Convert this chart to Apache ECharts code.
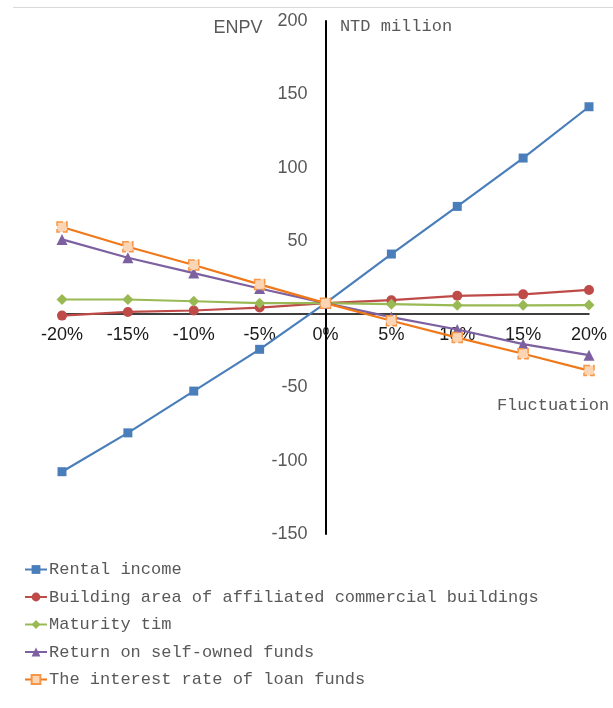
<!DOCTYPE html>
<html>
<head>
<meta charset="utf-8">
<script src="https://cdn.jsdelivr.net/npm/echarts@6/dist/echarts.min.js"></script>
<style>
  html, body { margin: 0; padding: 0; background: #fff; }
  #chart { width: 613px; height: 708px; }
</style>
</head>
<body>
<div id="chart"></div>
<script>
// fluctuation, in percent
const fluctuation = [-20, -15, -10, -5, 0, 5, 10, 15, 20];

const seriesNames = [
  "Rental income",
  "Building area of affiliated commercial buildings",
  "Maturity tim",
  "Return on self-owned funds",
  "The interest rate of loan funds"
];

// ENPV, NTD million
const rentalIncome = [-107.5, -81, -52.5, -24, 7.5, 41, 73.5, 106.5, 141.5];
const buildingArea = [-1, 1.5, 2.5, 4.5, 7.5, 9.5, 12.5, 13.5, 16.5];
const maturityTime = [10, 10, 8.8, 7.5, 7.5, 6.8, 6, 6, 6.2];
const selfOwnedReturn = [51, 38.5, 28, 17.5, 7.5, -2, -10.5, -20.5, -28];
const loanInterest = [59.5, 46, 33.5, 20.3, 7.5, -4.5, -16, -27, -38.5];

const colors = ["#4a7ebb", "#be4b48", "#98b954", "#7d60a0", "#f07818"];

const chart = echarts.init(document.getElementById("chart"));

function pairs(values) {
  return fluctuation.map((x, i) => [x, values[i]]);
}

const labelFont = "'Liberation Sans', Arial, sans-serif";
const monoFont = "'Liberation Mono', 'DejaVu Sans Mono', monospace";

// grid box, the axes cross at (0%, 0) inside it
const gridLeft = 62, gridRight = 24, gridTop = 21, gridBottom = 174;
const plotW = 613 - gridLeft - gridRight;
const plotH = 708 - gridTop - gridBottom;
// shift axes inward so they sit on the zero lines (labels follow)
const yAxisShift = -plotW * (0 - -20) / 40;
const xAxisShift = -plotH * (0 - -150) / 350;

function makeSeries(name, values, color, symbol, extra) {
  return Object.assign({
    name: name,
    type: "line",
    data: pairs(values),
    symbol: symbol,
    symbolSize: 9,
    lineStyle: { color: color, width: 2.2 },
    itemStyle: { color: color },
    emphasis: { disabled: true }
  }, extra || {});
}

chart.setOption({
  animation: false,
  grid: { left: gridLeft, right: gridRight, top: gridTop, bottom: gridBottom },
  xAxis: {
    type: "value",
    position: "bottom",
    offset: xAxisShift,
    min: -20,
    max: 20,
    interval: 5,
    axisLine: { onZero: false, lineStyle: { color: "#000", width: 1.5 } },
    axisTick: { show: false },
    splitLine: { show: false },
    axisLabel: {
      margin: 12,
      fontSize: 18,
      fontFamily: labelFont,
      color: "#1a1a1a",
      formatter: (v) => v + "%"
    }
  },
  yAxis: {
    type: "value",
    position: "left",
    offset: yAxisShift,
    min: -150,
    max: 200,
    interval: 50,
    axisLine: { show: true, onZero: false, lineStyle: { color: "#000", width: 2 } },
    axisTick: { show: false },
    splitLine: { show: false },
    axisLabel: {
      margin: 18,
      fontSize: 18,
      fontFamily: labelFont,
      color: "#595959",
      formatter: (v) => (v === 0 ? "" : String(v))
    }
  },
  legend: {
    orient: "vertical",
    left: 19,
    top: 556,
    itemWidth: 22,
    itemHeight: 11,
    itemGap: 10.5,
    textStyle: { fontFamily: monoFont, fontSize: 17, color: "#595959", padding: [0, 0, 0, -3] },
    data: seriesNames
  },
  graphic: [
    { type: "line", shape: { x1: 13, y1: 7.5, x2: 613, y2: 7.5 }, style: { stroke: "#d9d9d9", lineWidth: 1 } },
    { type: "text", x: 238, y: 28, style: { text: "ENPV", font: "18px " + labelFont, fill: "#595959", align: "center", verticalAlign: "middle" } },
    { type: "text", x: 396, y: 26, style: { text: "NTD million", font: "17px " + monoFont, fill: "#595959", align: "center", verticalAlign: "middle" } },
    { type: "text", x: 553, y: 405, style: { text: "Fluctuation", font: "17px " + monoFont, fill: "#595959", align: "center", verticalAlign: "middle" } }
  ],
  series: [
    makeSeries(seriesNames[0], rentalIncome, colors[0], "rect"),
    makeSeries(seriesNames[1], buildingArea, colors[1], "circle", { symbolSize: 10 }),
    makeSeries(seriesNames[2], maturityTime, colors[2], "diamond", { symbolSize: 11 }),
    makeSeries(seriesNames[3], selfOwnedReturn, colors[3], "triangle", { symbolSize: 11 }),
    makeSeries(seriesNames[4], loanInterest, colors[4], "rect", {
      symbolSize: 10,
      itemStyle: { color: "#fcd5b5", borderColor: "#f79646", borderWidth: 1.5, borderType: "dashed" }
    })
  ]
});
</script>
</body>
</html>
